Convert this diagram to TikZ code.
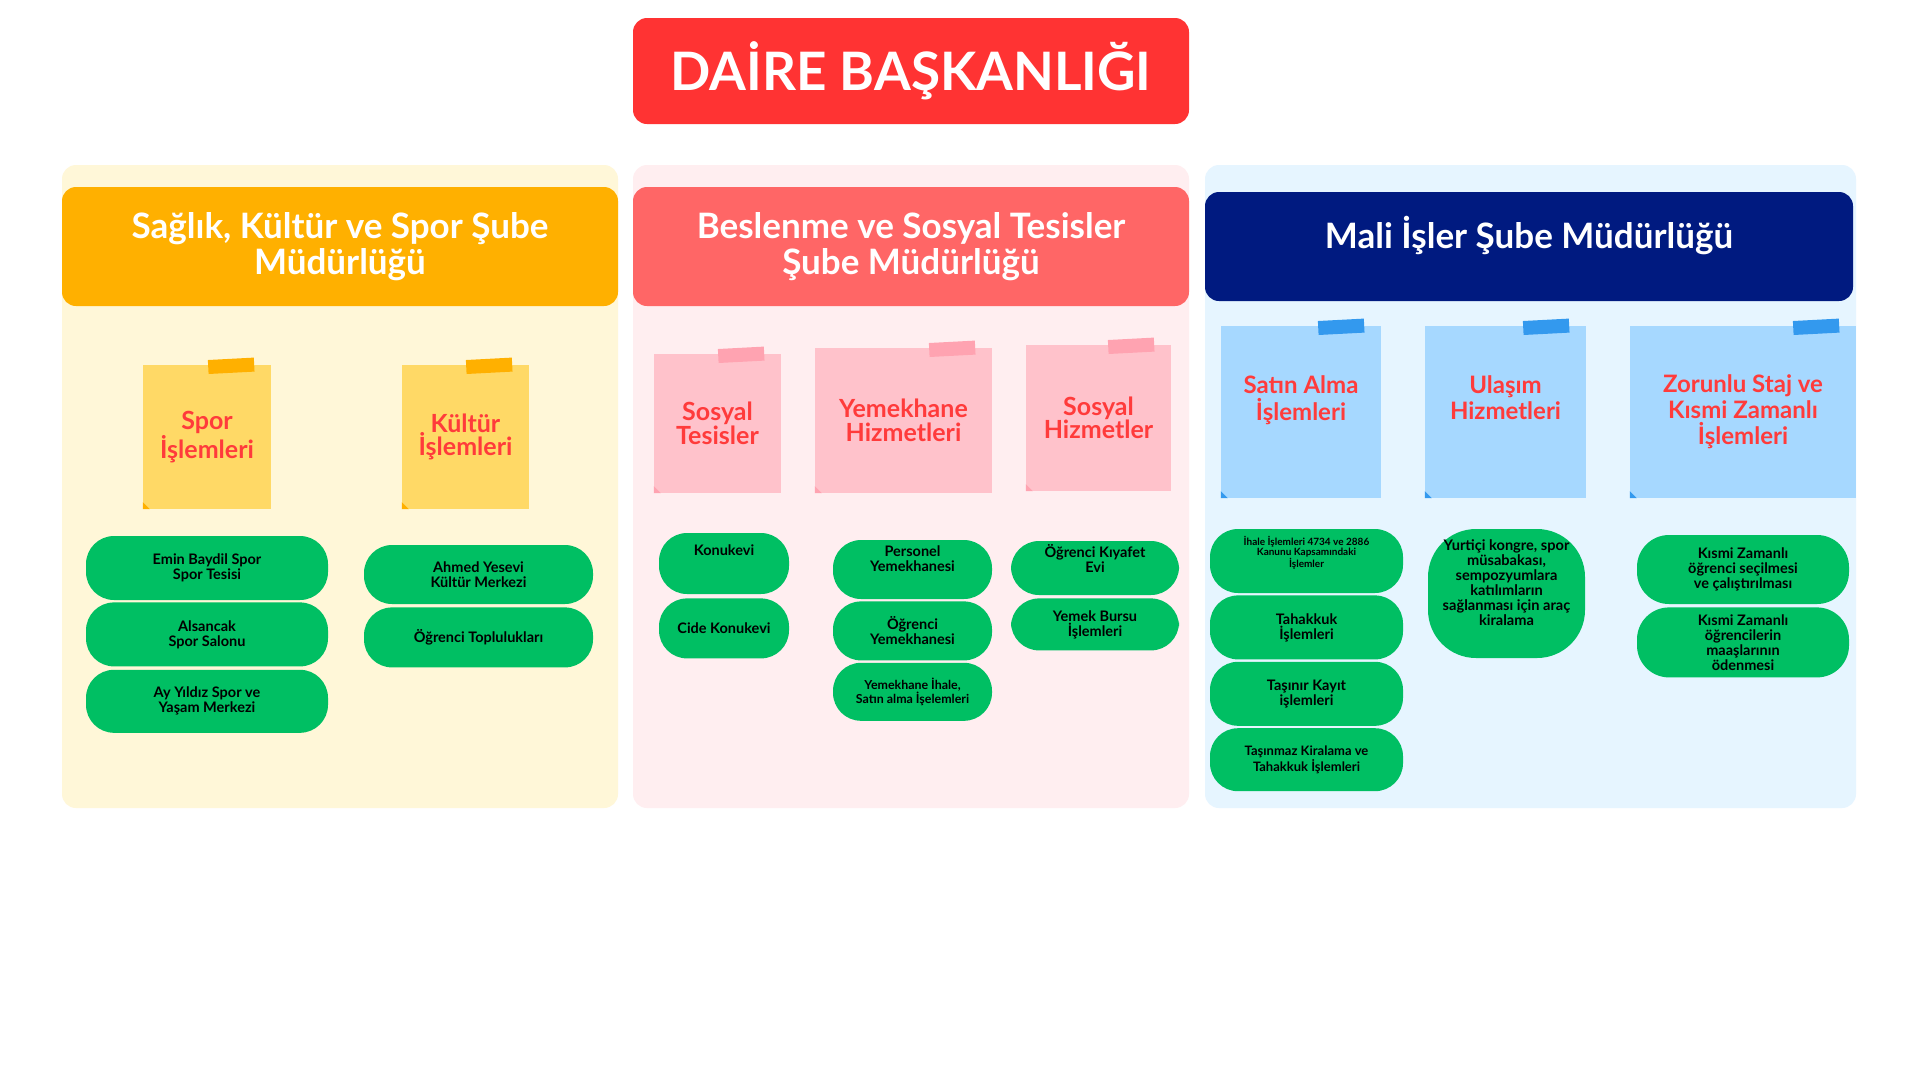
\documentclass[tikz,border=0pt]{standalone}
\usepackage{fontspec}
\setmainfont{Lato}
\usetikzlibrary{positioning,calc}
\definecolor{titlered}{RGB}{255,51,51}
\definecolor{notered}{RGB}{255,59,59}
\definecolor{pillgreen}{RGB}{0,191,99}
% panel colours: spor, beslenme, mali
\definecolor{sporbg}{RGB}{255,247,216}
\definecolor{sporhead}{RGB}{255,176,0}
\definecolor{sporsticky}{RGB}{255,217,102}
\definecolor{sportape}{RGB}{255,176,0}
\definecolor{besbg}{RGB}{255,238,240}
\definecolor{beshead}{RGB}{255,102,102}
\definecolor{bessticky}{RGB}{255,194,203}
\definecolor{bestape}{RGB}{255,163,177}
\definecolor{malibg}{RGB}{230,245,255}
\definecolor{malihead}{RGB}{0,26,128}
\definecolor{malisticky}{RGB}{166,216,255}
\definecolor{malitape}{RGB}{51,153,238}
\newcommand\ttlfont{\fontsize{53}{60}\selectfont\bfseries}
\newcommand\hdfont{\fontsize{35}{36}\selectfont\bfseries}
\newcommand\ntfont{\fontsize{25}{23.5}\selectfont\bfseries}
\newcommand\plfont{\fontsize{14.5}{15}\selectfont\bfseries}

\begin{document}
\begin{tikzpicture}[x=1pt,y=-1pt,
    panel/.style={rounded corners=14pt,inner sep=0pt},
    head/.style={rounded corners=14pt,text=white,font=\hdfont,align=center,inner sep=0pt},
    sticky/.style={inner sep=0pt,font=\ntfont,text=notered,align=center},
    tape/.style={minimum width=46pt,minimum height=14pt,inner sep=0pt,rotate=3},
    pill/.style={fill=pillgreen,rounded corners=28pt,font=\plfont,align=center,inner sep=0pt}]
  \fill[white] (0,0) rectangle (1920,1080);
  \useasboundingbox (0,0) rectangle (1920,1080);

  % title
  \node[fill=titlered,rounded corners=14pt,text=white,font=\ttlfont,
        minimum width=556pt,minimum height=106pt] (title) at (911,71) {DAİRE BAŞKANLIĞI};

  % panels
  \node[panel,fill=sporbg,minimum width=556pt,minimum height=643pt] (p1) at (340,486.5) {};
  \node[panel,fill=besbg,minimum width=556pt,minimum height=643pt] (p2) at (911,486.5) {};
  \node[panel,fill=malibg,minimum width=651pt,minimum height=643pt] (p3) at (1530.5,486.5) {};

  \node[head,fill=sporhead,minimum width=556pt,minimum height=119pt] (h1) at (340,246.5)
    {Sağlık, Kültür ve Spor Şube\\Müdürlüğü};
  \node[head,fill=beshead,minimum width=556pt,minimum height=119pt] (h2) at (911,246.5)
    {Beslenme ve Sosyal Tesisler\\Şube Müdürlüğü};
  \node[head,fill=malihead,minimum width=648pt,minimum height=109pt] (h3) at (1529,246.5)
    {\raisebox{28pt}{Mali İşler Şube Müdürlüğü}};

  % sticky notes
  \node[sticky,fill=sporsticky,minimum width=128pt,minimum height=144pt] (s1) at (207,437) {Spor\\İşlemleri};
  \node[sticky,fill=sporsticky,minimum width=127pt,minimum height=144pt] (s2) at (465.5,437) {Kültür\\İşlemleri};
  \node[sticky,fill=bessticky,minimum width=127pt,minimum height=139pt] (s3) at (717.5,423.5) {Sosyal\\Tesisler};
  \node[sticky,fill=bessticky,minimum width=177pt,minimum height=145pt] (s4) at (903.5,420.5) {Yemekhane\\Hizmetleri};
  \node[sticky,fill=bessticky,minimum width=145pt,minimum height=146pt] (s5) at (1098.5,418) {Sosyal\\Hizmetler};
  \node[sticky,fill=malisticky,font=\fontsize{24}{26}\selectfont\bfseries,
        minimum width=160pt,minimum height=172pt] (s6) at (1301,412) {\raisebox{28pt}{\shortstack{Satın Alma\\[1pt]İşlemleri}}};
  \node[sticky,fill=malisticky,font=\fontsize{24}{26}\selectfont\bfseries,
        minimum width=161pt,minimum height=172pt] (s7) at (1505.5,412) {\raisebox{28pt}{\shortstack{Ulaşım\\[1pt]Hizmetleri}}};
  \node[sticky,fill=malisticky,font=\fontsize{24}{26}\selectfont\bfseries,
        minimum width=226pt,minimum height=172pt] (s8) at (1743,412) {Zorunlu Staj ve\\Kısmi Zamanlı\\İşlemleri};

  % tape and curled corner
  \foreach \s/\c in {s1/sportape,s2/sportape,s3/bestape,s4/bestape,s5/bestape,
                     s6/malitape,s7/malitape,s8/malitape} {
    \node[tape,fill=\c] at ([xshift=-40pt,yshift=-1pt]\s.north east) {};
    \fill[\c] (\s.south west) -- ([yshift=7pt]\s.south west) -- ([xshift=7pt]\s.south west) -- cycle;
  }

  % spor
  \node[pill,minimum width=242pt,minimum height=64pt] (e1) at (207,568) {Emin Baydil Spor\\Spor Tesisi};
  \node[pill,minimum width=242pt,minimum height=64pt,below=2pt of e1] (e2) {Alsancak\\Spor Salonu};
  \node[pill,minimum width=242pt,minimum height=63pt,below=3pt of e2] (e3) {Ay Yıldız Spor ve\\Yaşam Merkezi};
  \node[pill,minimum width=229pt,minimum height=59pt] (e4) at (478.5,574.5) {Ahmed Yesevi\\Kültür Merkezi};
  \node[pill,minimum width=229pt,minimum height=60pt,below=3pt of e4] (e5) {Öğrenci Toplulukları};

  % beslenme
  \node[pill,minimum width=130pt,minimum height=61pt] (k1) at (724,563.5) {Konukevi\\[12pt]};
  \node[pill,minimum width=130pt,minimum height=60pt,below=4pt of k1] (k2) {Cide Konukevi};
  \node[pill,minimum width=159pt,minimum height=59pt] (y1) at (912.5,569.5) {Personel\\Yemekhanesi\\[6pt]};
  \node[pill,minimum width=159pt,minimum height=59pt,below=2pt of y1] (y2) {Öğrenci\\Yemekhanesi};
  \node[pill,minimum width=159pt,minimum height=58pt,below=2pt of y2,
        font=\fontsize{12.4}{13.5}\selectfont\bfseries] (y3) {Yemekhane İhale,\\Satın alma İşelemleri};
  \node[pill,minimum width=168pt,minimum height=54pt] (b1) at (1095,568) {Öğrenci Kıyafet\\Evi\\[4pt]};
  \node[pill,minimum width=168pt,minimum height=52pt,below=3pt of b1] (b2) {Yemek Bursu\\İşlemleri};

  % mali
  \node[pill,minimum width=193pt,minimum height=64pt,
        font=\fontsize{10}{10.5}\selectfont\bfseries] (m1) at (1306.5,561) {İhale İşlemleri 4734 ve 2886\\Kanunu Kapsamındaki\\İşlemler\\[8pt]};
  \node[pill,minimum width=193pt,minimum height=64pt,below=2pt of m1] (m2) {Tahakkuk\\İşlemleri};
  \node[pill,minimum width=193pt,minimum height=64pt,below=2pt of m2] (m3) {Taşınır Kayıt\\işlemleri};
  \node[pill,minimum width=193pt,minimum height=63pt,below=2pt of m3,
        font=\fontsize{13}{14}\selectfont\bfseries] (m4) {Taşınmaz Kiralama ve\\Tahakkuk İşlemleri};
  \node[pill,rounded corners=48pt,minimum width=157pt,minimum height=129pt,
        font=\fontsize{14.6}{15}\selectfont\bfseries] (u1) at (1506.5,593.5)
    {Yurtiçi kongre, spor\\müsabakası,\\sempozyumlara\\katılımların\\sağlanması için araç\\kiralama\\[6pt]};
  \node[pill,rounded corners=32pt,minimum width=212pt,minimum height=69pt] (z1) at (1743,569.5)
    {Kısmi Zamanlı\\öğrenci seçilmesi\\ve çalıştırılması};
  \node[pill,rounded corners=32pt,minimum width=212pt,minimum height=70pt,below=3pt of z1] (z2)
    {Kısmi Zamanlı\\öğrencilerin\\maaşlarının\\ödenmesi};
\end{tikzpicture}
\end{document}
